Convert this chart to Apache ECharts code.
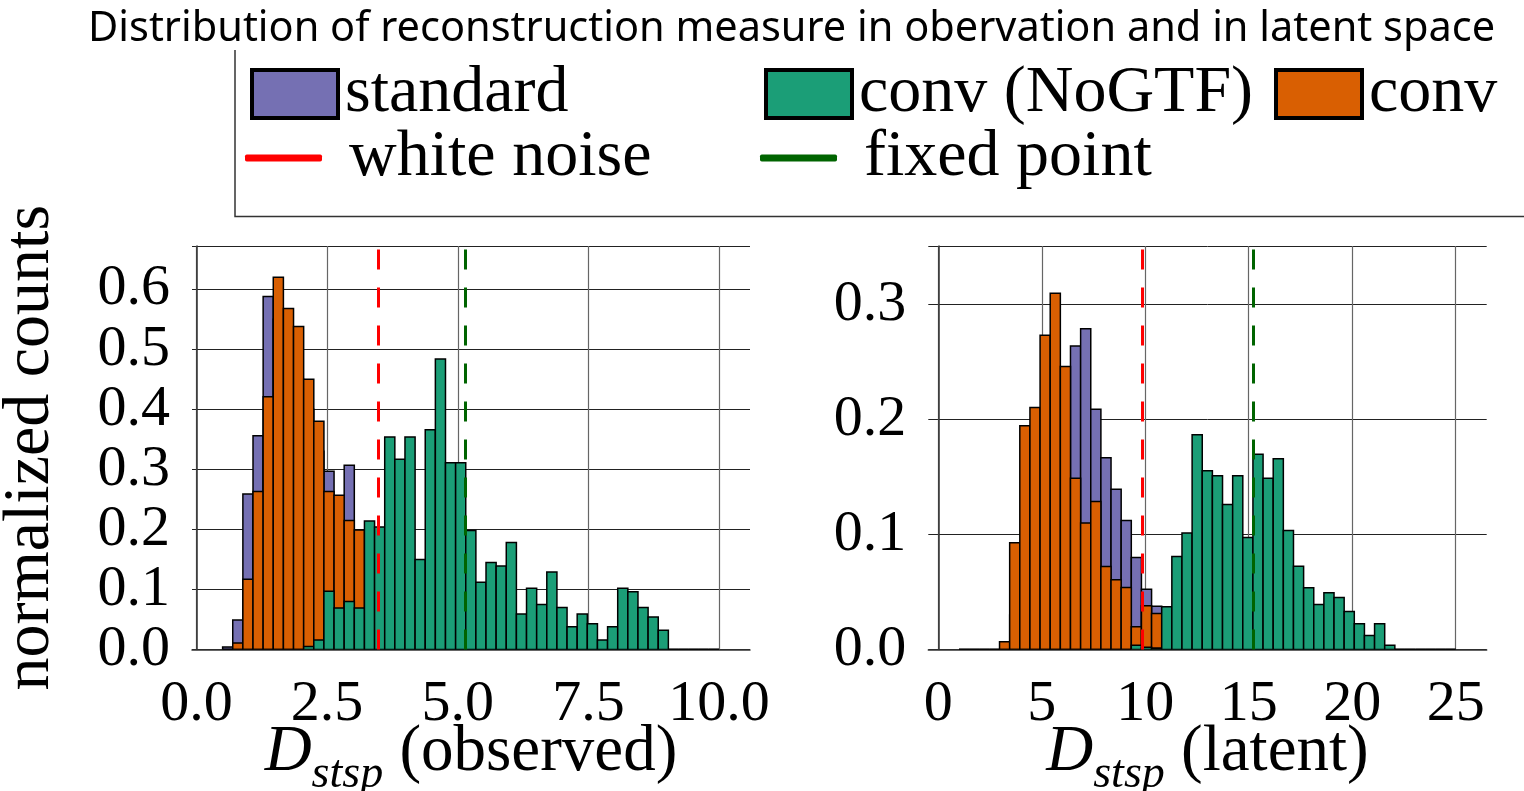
<!DOCTYPE html>
<html>
<head>
<meta charset="utf-8">
<script src="https://cdn.jsdelivr.net/npm/echarts@6.0.0/dist/echarts.min.js"></script>
<style>
  html, body { margin: 0; padding: 0; background: #fff; }
  #chart { width: 1524px; height: 791px; }
</style>
</head>
<body>
<div id="chart"></div>
<script>
// histogram bins (observed space): 49 bins from 0.5 to 10
const obsBinStart = 0.5;
const obsBinWidth = 9.5 / 49;
const obsStandard = [0.004, 0.049, 0.259, 0.356, 0.588, 0.55, 0.50, 0.45, 0.40, 0.33, 0.297, 0.22, 0.307, 0.15, 0.10, 0.05,
    0, 0, 0, 0, 0, 0, 0, 0, 0, 0, 0, 0, 0, 0, 0, 0, 0, 0, 0, 0, 0, 0, 0, 0, 0, 0, 0, 0, 0, 0, 0, 0, 0];
const obsConv = [0, 0.011, 0.117, 0.263, 0.421, 0.62, 0.568, 0.538, 0.45, 0.38, 0.263, 0.257, 0.215, 0.199,
    0, 0, 0, 0, 0, 0, 0, 0, 0, 0, 0, 0, 0, 0, 0, 0, 0, 0, 0, 0, 0, 0, 0, 0, 0, 0, 0, 0, 0, 0, 0, 0, 0, 0, 0];
const obsNoGTF = [0, 0, 0, 0, 0, 0, 0, 0, 0.005, 0.016, 0.097, 0.069, 0.08, 0.069, 0.214, 0.204, 0.354, 0.317, 0.354,
    0.15, 0.366, 0.484, 0.311, 0.311, 0.198, 0.112, 0.145, 0.139, 0.178, 0.059, 0.102, 0.075, 0.129, 0.07, 0.038,
    0.059, 0.043, 0.016, 0.038, 0.102, 0.096, 0.07, 0.054, 0.032, 0, 0, 0, 0, 0];
const obsWhiteNoise = 3.48;
const obsFixedPoint = 5.14;

// histogram bins (latent space): 49 bins from 1 to 25
const latBinStart = 1.0;
const latBinWidth = 24 / 49;
const latStandard = [0, 0, 0, 0, 0, 0.03, 0.06, 0.1, 0.15, 0.19, 0.2, 0.264, 0.279, 0.209, 0.1667, 0.1394, 0.1122,
    0.08, 0.0525, 0.0377, 0, 0, 0, 0, 0, 0, 0, 0, 0, 0, 0, 0, 0, 0, 0, 0, 0, 0, 0, 0, 0, 0, 0, 0, 0, 0, 0, 0, 0];
const latConv = [0, 0, 0, 0, 0.0067, 0.0928, 0.1945, 0.2104, 0.2733, 0.3099, 0.2461, 0.149, 0.110, 0.1287, 0.0722,
    0.0606, 0.0539, 0.0197, 0.038, 0.0313, 0, 0, 0, 0, 0, 0, 0, 0, 0, 0, 0, 0, 0, 0, 0, 0, 0, 0, 0, 0, 0, 0, 0, 0, 0, 0, 0, 0, 0];
const latNoGTF = [0, 0, 0, 0, 0, 0, 0, 0, 0, 0, 0, 0, 0, 0, 0, 0, 0, 0.0038, 0.002, 0.0014, 0.0371, 0.0809, 0.1014,
    0.1867, 0.1554, 0.151, 0.126, 0.151, 0.0974, 0.1699, 0.149, 0.1658, 0.1035, 0.0725, 0.0536, 0.0391, 0.0493,
    0.0452, 0.033, 0.0223, 0.0122, 0.0223, 0.0038, 0, 0, 0, 0, 0, 0];
const latWhiteNoise = 9.84;
const latFixedPoint = 15.21;

const obsTicksX = [0, 2.5, 5, 7.5, 10];
const latTicksX = [0, 5, 10, 15, 20, 25];

const colStandard = '#7570b3';
const colNoGTF = '#1b9e77';
const colConv = '#d95f02';
const serif = "'Liberation Serif', 'Times New Roman', serif";

const toBins = (start, width, heights) => heights.map((h, i) => [start + i * width, start + (i + 1) * width, h]);

const renderBar = (color) => (params, api) => {
    const p0 = api.coord([api.value(0), api.value(2)]);
    const p1 = api.coord([api.value(1), 0]);
    return {
        type: 'rect',
        shape: { x: p0[0], y: p0[1], width: p1[0] - p0[0], height: p1[1] - p0[1] },
        style: { fill: color, stroke: '#000', lineWidth: 1.5 }
    };
};

const histSeries = (name, idx, color, data, z) => ({
    name: name,
    type: 'custom',
    xAxisIndex: idx,
    yAxisIndex: idx,
    renderItem: renderBar(color),
    itemStyle: { color: color, borderColor: '#000', borderWidth: 4 },
    encode: { x: [0, 1], y: 2 },
    data: data,
    clip: true,
    z: z
});

const vline = (name, idx, color, x) => ({
    name: name,
    type: 'line',
    xAxisIndex: idx,
    yAxisIndex: idx,
    data: [],
    itemStyle: { color: color },
    lineStyle: { color: color },
    markLine: {
        silent: true,
        symbol: 'none',
        label: { show: false },
        lineStyle: { color: color, width: 3, type: [20, 18] },
        data: [{ xAxis: x }]
    },
    z: 10
});

const xAxisCommon = (ticks, min, max, idx, title) => ({
    type: 'value',
    gridIndex: idx,
    min: min,
    max: max,
    axisLine: { show: true, onZero: false, lineStyle: { color: '#333', width: 1.5 } },
    axisTick: { show: false, customValues: ticks },
    axisLabel: { customValues: ticks, margin: 26, fontFamily: serif, fontSize: 58, color: '#000',
        showMinLabel: true, hideOverlap: false,
        formatter: (v) => idx === 0 ? v.toFixed(1) : String(v) },
    splitLine: { show: true, lineStyle: { color: '#666', width: 1.2 } },
    name: title,
    nameLocation: 'middle',
    nameGap: 71,
    nameMoveOverlap: false,
    nameTextStyle: {
        fontFamily: serif, fontSize: 65, color: '#000',
        rich: {
            d: { fontFamily: serif, fontStyle: 'italic', fontSize: 65, lineHeight: 65, verticalAlign: 'top' },
            s: { fontFamily: serif, fontStyle: 'italic', fontSize: 46, lineHeight: 65, verticalAlign: 'top',
                padding: [31, 0, 0, 0] },
            t: { fontFamily: serif, fontSize: 65, lineHeight: 65, verticalAlign: 'top' }
        }
    }
});

const yAxisCommon = (max, idx, title) => ({
    type: 'value',
    gridIndex: idx,
    min: 0,
    max: max,
    interval: 0.1,
    axisLine: { show: true, lineStyle: { color: '#333', width: 1.5 } },
    axisTick: { show: false },
    axisLabel: { margin: 22, fontFamily: serif, fontSize: 58, color: '#000',
        showMinLabel: true, showMaxLabel: false, hideOverlap: false,
        formatter: (v) => v.toFixed(1) },
    splitLine: { show: true, lineStyle: { color: '#222', width: 1 } },
    name: title,
    nameLocation: 'middle',
    nameGap: 128,
    nameMoveOverlap: false,
    nameTextStyle: { fontFamily: serif, fontSize: 66, color: '#000' }
});

const legendItem = (name, left, top, isLine) => ({
    data: [name],
    left: left,
    top: top,
    padding: 0,
    icon: isLine ? 'roundRect' : 'rect',
    itemWidth: isLine ? 77 : 86,
    itemHeight: isLine ? 7 : 48,
    itemStyle: isLine ? { borderWidth: 0 } : { borderColor: '#000', borderWidth: 4 },
    textStyle: { fontFamily: serif, fontSize: 66, lineHeight: 64, color: '#000',
        padding: isLine ? [0, 0, 0, 22] : [0, 0, 0, 2] },
    selectedMode: false
});

const chart = echarts.init(document.getElementById('chart'));
chart.setOption({
    backgroundColor: '#fff',
    animation: false,
    textStyle: { fontFamily: serif },
    title: {
        text: 'Distribution of reconstruction measure in obervation and in latent space',
        left: 88,
        top: 8,
        padding: 0,
        textStyle: { fontFamily: "'Noto Sans', sans-serif", fontWeight: 'normal', fontSize: 41.5, color: '#000' }
    },
    legend: [
        legendItem('standard', 250, 61, false),
        legendItem('conv (NoGTF)', 764, 61, false),
        legendItem('conv', 1274, 61, false),
        legendItem('white noise', 245, 125, true),
        legendItem('fixed point', 760, 125, true)
    ],
    graphic: [{
        type: 'polyline',
        shape: { points: [[235, 50], [235, 216.5], [1524, 216.5]] },
        style: { stroke: '#333', lineWidth: 1.5, fill: null },
        silent: true
    }],
    grid: [
        { left: 192, top: 246, width: 558, height: 403.5, containLabel: false, outerBoundsMode: 'none' },
        { left: 928.3, top: 246, width: 558.4, height: 403.5, containLabel: false, outerBoundsMode: 'none' }
    ],
    xAxis: [
        xAxisCommon(obsTicksX, -0.086, 10.593, 0, '{d|D}{s|stsp}{t| (observed)}'),
        xAxisCommon(latTicksX, -0.483, 26.5, 1, '{d|D}{s|stsp}{t| (latent)}')
    ],
    yAxis: [
        yAxisCommon(0.672, 0, 'normalized counts'),
        yAxisCommon(0.3509, 1, '')
    ],
    series: [
        histSeries('standard', 0, colStandard, toBins(obsBinStart, obsBinWidth, obsStandard), 2),
        histSeries('conv', 0, colConv, toBins(obsBinStart, obsBinWidth, obsConv), 3),
        histSeries('conv (NoGTF)', 0, colNoGTF, toBins(obsBinStart, obsBinWidth, obsNoGTF), 4),
        vline('white noise', 0, '#ff0000', obsWhiteNoise),
        vline('fixed point', 0, '#006400', obsFixedPoint),
        histSeries('standard', 1, colStandard, toBins(latBinStart, latBinWidth, latStandard), 2),
        histSeries('conv', 1, colConv, toBins(latBinStart, latBinWidth, latConv), 3),
        histSeries('conv (NoGTF)', 1, colNoGTF, toBins(latBinStart, latBinWidth, latNoGTF), 4),
        vline('white noise', 1, '#ff0000', latWhiteNoise),
        vline('fixed point', 1, '#006400', latFixedPoint)
    ]
});
</script>
</body>
</html>
